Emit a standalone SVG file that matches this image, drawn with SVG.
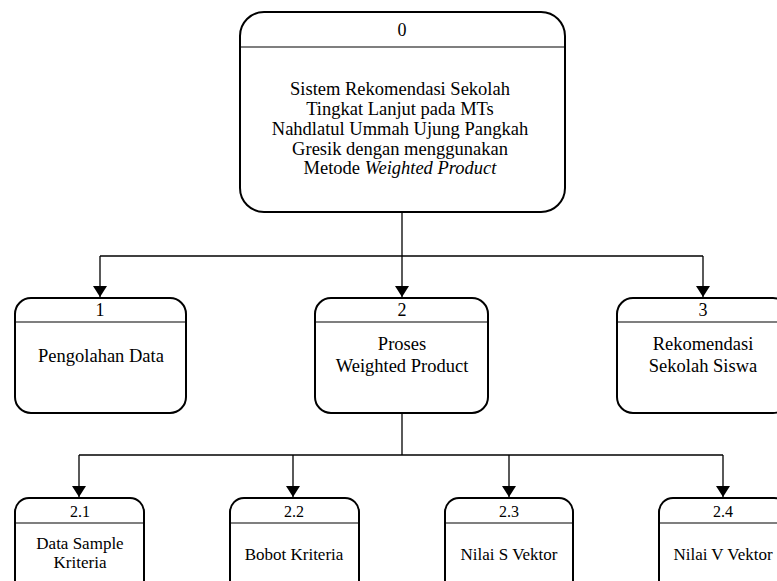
<svg xmlns="http://www.w3.org/2000/svg" width="777" height="581" viewBox="0 0 777 581">
  <style>
    .box { fill: #ffffff; stroke: #000000; stroke-width: 2; }
    .sep { stroke: #000000; stroke-width: 1.2; }
    .wire { fill: none; stroke: #000000; stroke-width: 1.3; }
    text { font-family: "Liberation Serif", "Times New Roman", serif; fill: #000000; text-anchor: middle; }
    .lbl { font-size: 18.5px; }
    .lbl2 { font-size: 17px; }
    .num { font-size: 18px; }
    .num2 { font-size: 16px; }
  </style>
  <defs>
    <marker id="arrow" markerWidth="12" markerHeight="15" refX="11" refY="7" orient="auto" markerUnits="userSpaceOnUse">
      <path d="M0,0 L0,14 L11,7 Z" fill="#000000"/>
    </marker>
  </defs>
  <rect width="777" height="581" fill="#ffffff"/>

  <!-- connectors -->
  <g id="connectors">
    <path class="wire" d="M402,212 V256"/>
    <path class="wire" d="M100,256 H703"/>
    <path class="wire" d="M100,256 V297" marker-end="url(#arrow)"/>
    <path class="wire" d="M402,256 V297" marker-end="url(#arrow)"/>
    <path class="wire" d="M703,256 V297" marker-end="url(#arrow)"/>
    <path class="wire" d="M402,413 V455"/>
    <path class="wire" d="M79,455 H723"/>
    <path class="wire" d="M79,455 V497" marker-end="url(#arrow)"/>
    <path class="wire" d="M293,455 V497" marker-end="url(#arrow)"/>
    <path class="wire" d="M509,455 V497" marker-end="url(#arrow)"/>
    <path class="wire" d="M723,455 V497" marker-end="url(#arrow)"/>
  </g>

  <!-- level 0 -->
  <g id="node-0">
    <rect class="box" x="240" y="12" width="325" height="200" rx="24" ry="24"/>
    <line class="sep" x1="240" y1="47" x2="565" y2="47"/>
    <text class="num" x="402" y="36">0</text>
    <text class="lbl" x="400" y="95">Sistem Rekomendasi Sekolah</text>
    <text class="lbl" x="400" y="115">Tingkat Lanjut pada MTs</text>
    <text class="lbl" x="400" y="135">Nahdlatul Ummah Ujung Pangkah</text>
    <text class="lbl" x="400" y="155">Gresik dengan menggunakan</text>
    <text class="lbl" x="400" y="174">Metode <tspan font-style="italic">Weighted Product</tspan></text>
  </g>

  <!-- level 1 -->
  <g id="node-1">
    <rect class="box" x="15" y="298" width="171" height="115" rx="16" ry="16"/>
    <line class="sep" x1="15" y1="322" x2="186" y2="322"/>
    <text class="num" x="100" y="316">1</text>
    <text class="lbl" x="101" y="362">Pengolahan Data</text>
  </g>
  <g id="node-2">
    <rect class="box" x="315" y="298" width="173" height="115" rx="16" ry="16"/>
    <line class="sep" x1="315" y1="322" x2="488" y2="322"/>
    <text class="num" x="402" y="316">2</text>
    <text class="lbl" x="402" y="350">Proses</text>
    <text class="lbl" x="402" y="372">Weighted Product</text>
  </g>
  <g id="node-3">
    <rect class="box" x="617" y="298" width="172" height="115" rx="16" ry="16"/>
    <line class="sep" x1="617" y1="322" x2="789" y2="322"/>
    <text class="num" x="703" y="316">3</text>
    <text class="lbl" x="703" y="350">Rekomendasi</text>
    <text class="lbl" x="703" y="372">Sekolah Siswa</text>
  </g>

  <!-- level 2 -->
  <g id="node-2-1">
    <rect class="box" x="15" y="498" width="129" height="110" rx="14" ry="14"/>
    <line class="sep" x1="15" y1="523" x2="144" y2="523"/>
    <text class="num2" x="80" y="517">2.1</text>
    <text class="lbl2" x="80" y="549">Data Sample</text>
    <text class="lbl2" x="80" y="568">Kriteria</text>
  </g>
  <g id="node-2-2">
    <rect class="box" x="230" y="498" width="129" height="110" rx="14" ry="14"/>
    <line class="sep" x1="230" y1="523" x2="359" y2="523"/>
    <text class="num2" x="294" y="517">2.2</text>
    <text class="lbl2" x="294" y="560">Bobot Kriteria</text>
  </g>
  <g id="node-2-3">
    <rect class="box" x="445" y="498" width="128" height="110" rx="14" ry="14"/>
    <line class="sep" x1="445" y1="523" x2="573" y2="523"/>
    <text class="num2" x="509" y="517">2.3</text>
    <text class="lbl2" x="509" y="560">Nilai S Vektor</text>
  </g>
  <g id="node-2-4">
    <rect class="box" x="659" y="498" width="129" height="110" rx="14" ry="14"/>
    <line class="sep" x1="659" y1="523" x2="788" y2="523"/>
    <text class="num2" x="723" y="517">2.4</text>
    <text class="lbl2" x="723" y="560">Nilai V Vektor</text>
  </g>
</svg>
